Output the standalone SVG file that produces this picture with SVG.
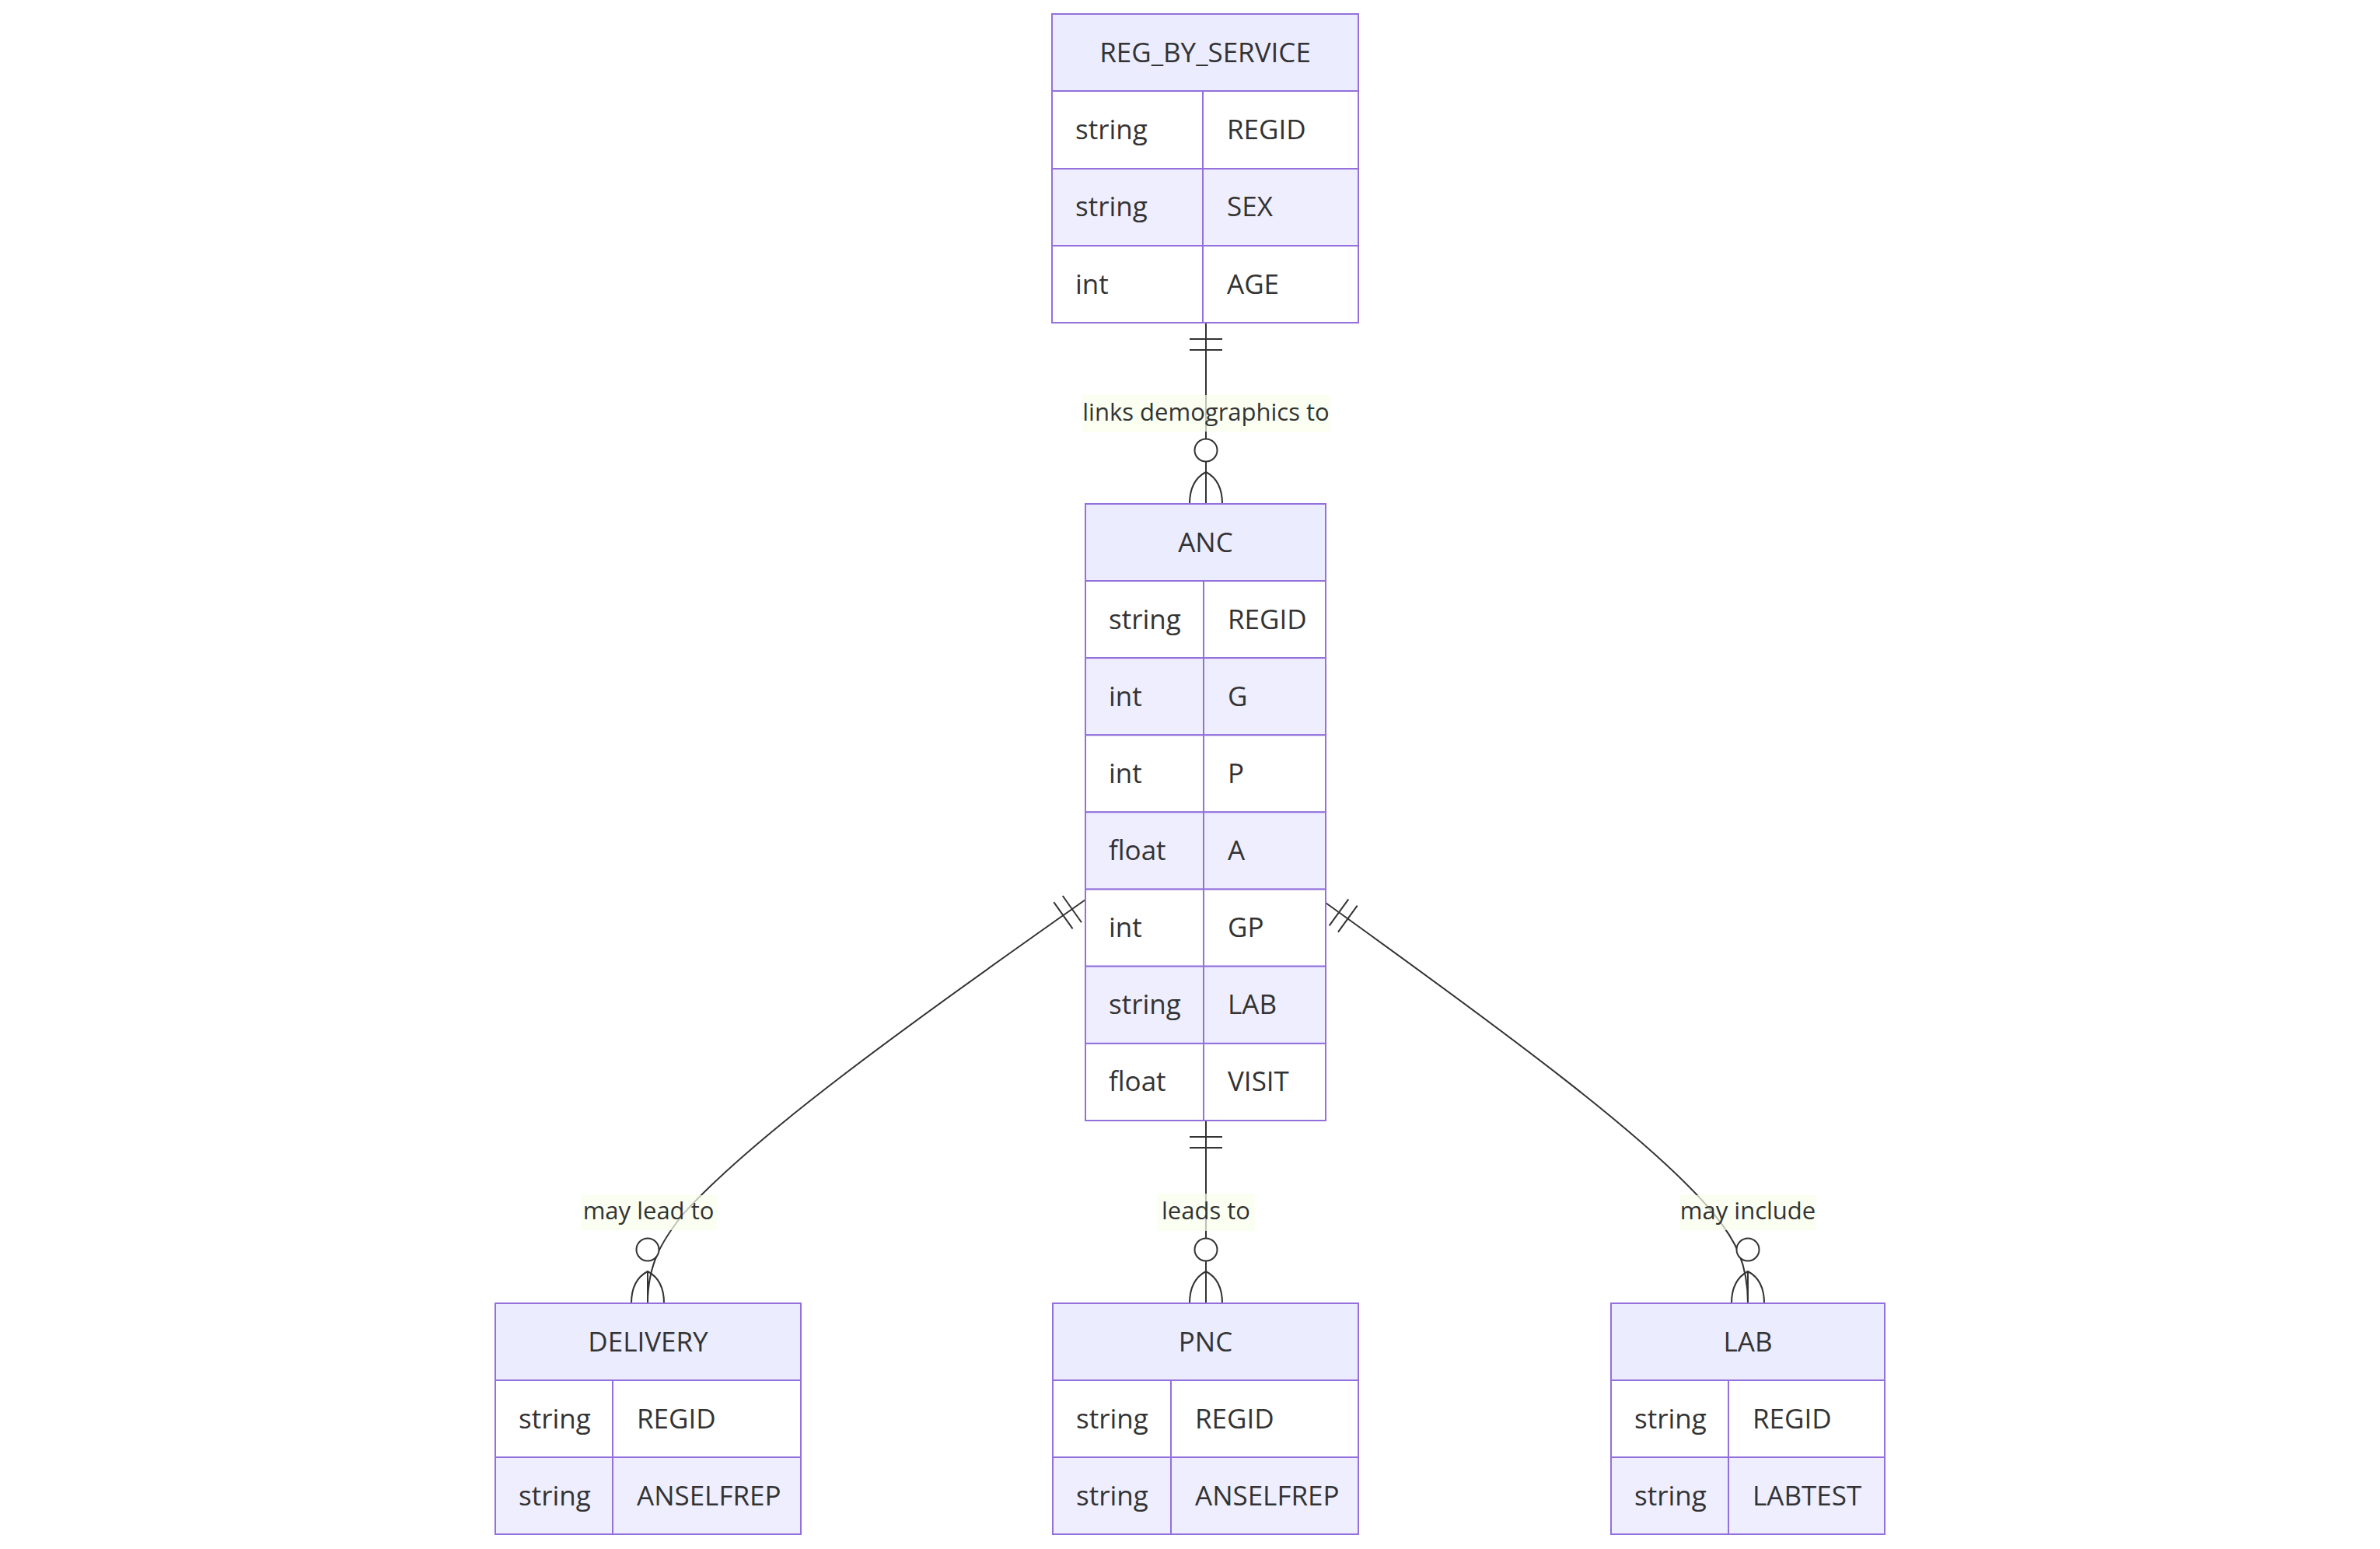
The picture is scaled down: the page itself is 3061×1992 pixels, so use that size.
<svg xmlns="http://www.w3.org/2000/svg" width="3061" height="1992" viewBox="0 0 3061 1992">
<style>
  .hdr { fill: #ECECFF; stroke: #9370DB; stroke-width: 2; }
  .odd { fill: #FFFFFF; stroke: #9370DB; stroke-width: 2; }
  .even { fill: #EEEEFF; stroke: #9370DB; stroke-width: 2; }
  .div { stroke: #9370DB; stroke-width: 2; }
  .title { font-family: "Open Sans", "Liberation Sans", sans-serif; font-size: 35px; fill: #333333; text-anchor: middle; }
  .attr { font-family: "Open Sans", "Liberation Sans", sans-serif; font-size: 35px; fill: #333333; }
  .edge { fill: none; stroke: #333333; stroke-width: 2; }
  .lblbox { fill: #F9FFEC; opacity: 0.7; }
  .lbl { font-family: "Open Sans", "Liberation Sans", sans-serif; font-size: 31px; fill: #333333; text-anchor: middle; }
  .mk { fill: none; stroke: #333333; stroke-width: 2; }
  .mkc { fill: #FFFFFF; stroke: #333333; stroke-width: 2; }
</style>
<defs>
  <g id="oneOnly">
    <line class="mk" x1="-21" y1="21" x2="21" y2="21"/>
    <line class="mk" x1="-21" y1="35" x2="21" y2="35"/>
  </g>
  <g id="zeroOrMany">
    <circle class="mkc" cx="0" cy="-69" r="14.5"/>
    <path class="mk" d="M-21,0 Q-21,-30 0,-41 Q21,-30 21,0"/>
    <line class="mk" x1="0" y1="-41" x2="0" y2="0"/>
  </g>
</defs>
<rect width="3061" height="1992" fill="#FFFFFF"/>

<g id="connectors">
  <path class="edge" d="M1551,415 L1551,648"/>
  <path class="edge" d="M1551,1441 L1551,1676"/>
  <path class="edge" d="M1396,1157 C1150,1330 965,1465 878,1562 C852,1595 833,1625 833,1676"/>
  <path class="edge" d="M1705,1161 C1940,1330 2130,1470 2205,1562 C2232,1595 2248,1625 2248,1676"/>

  <rect class="lblbox" x="1391" y="508" width="320" height="47"/>
  <text class="lbl" x="1551" y="541">links demographics to</text>
  <rect class="lblbox" x="1488" y="1535" width="126" height="48"/>
  <text class="lbl" x="1551" y="1568">leads to</text>
  <rect class="lblbox" x="747" y="1537" width="175" height="45"/>
  <text class="lbl" x="834" y="1568">may lead to</text>
  <rect class="lblbox" x="2160" y="1537" width="176" height="45"/>
  <text class="lbl" x="2248" y="1568">may include</text>

  <use href="#oneOnly" transform="translate(1551,415)"/>
  <use href="#zeroOrMany" transform="translate(1551,648)"/>
  <use href="#oneOnly" transform="translate(1551,1441)"/>
  <use href="#zeroOrMany" transform="translate(1551,1676)"/>
  <use href="#oneOnly" transform="translate(1396,1157) rotate(54.7)"/>
  <use href="#zeroOrMany" transform="translate(833,1676)"/>
  <use href="#oneOnly" transform="translate(1705,1161) rotate(-54)"/>
  <use href="#zeroOrMany" transform="translate(2248,1676)"/>
</g>

<g id="REG_BY_SERVICE">
  <rect class="hdr" x="1353" y="18" width="394" height="99"/>
  <rect class="odd" x="1353" y="117" width="394" height="100"/>
  <rect class="even" x="1353" y="217" width="394" height="99"/>
  <rect class="odd" x="1353" y="316" width="394" height="99"/>
  <line class="div" x1="1547" y1="117" x2="1547" y2="415"/>
  <text class="title" x="1550" y="80">REG_BY_SERVICE</text>
  <text class="attr" x="1383" y="179">string</text>
  <text class="attr" x="1578" y="179">REGID</text>
  <text class="attr" x="1383" y="278">string</text>
  <text class="attr" x="1578" y="278">SEX</text>
  <text class="attr" x="1383" y="378">int</text>
  <text class="attr" x="1578" y="378">AGE</text>
</g>

<g id="ANC">
  <rect class="hdr" x="1396" y="648" width="309" height="99"/>
  <rect class="odd" x="1396" y="747" width="309" height="99.1"/>
  <rect class="even" x="1396" y="846.1" width="309" height="99.2"/>
  <rect class="odd" x="1396" y="945.3" width="309" height="99.1"/>
  <rect class="even" x="1396" y="1044.4" width="309" height="99.2"/>
  <rect class="odd" x="1396" y="1143.6" width="309" height="99.1"/>
  <rect class="even" x="1396" y="1242.7" width="309" height="99.2"/>
  <rect class="odd" x="1396" y="1341.9" width="309" height="99.1"/>
  <line class="div" x1="1548" y1="747" x2="1548" y2="1441"/>
  <text class="title" x="1550.5" y="710">ANC</text>
  <text class="attr" x="1426" y="808.5">string</text>
  <text class="attr" x="1579" y="808.5">REGID</text>
  <text class="attr" x="1426" y="907.7">int</text>
  <text class="attr" x="1579" y="907.7">G</text>
  <text class="attr" x="1426" y="1006.9">int</text>
  <text class="attr" x="1579" y="1006.9">P</text>
  <text class="attr" x="1426" y="1106">float</text>
  <text class="attr" x="1579" y="1106">A</text>
  <text class="attr" x="1426" y="1205.1">int</text>
  <text class="attr" x="1579" y="1205.1">GP</text>
  <text class="attr" x="1426" y="1304.3">string</text>
  <text class="attr" x="1579" y="1304.3">LAB</text>
  <text class="attr" x="1426" y="1403.4">float</text>
  <text class="attr" x="1579" y="1403.4">VISIT</text>
</g>

<g id="DELIVERY">
  <rect class="hdr" x="637" y="1676" width="393" height="99"/>
  <rect class="odd" x="637" y="1775" width="393" height="99"/>
  <rect class="even" x="637" y="1874" width="393" height="99"/>
  <line class="div" x1="788" y1="1775" x2="788" y2="1973"/>
  <text class="title" x="833.5" y="1737.5">DELIVERY</text>
  <text class="attr" x="667" y="1836.5">string</text>
  <text class="attr" x="819" y="1836.5">REGID</text>
  <text class="attr" x="667" y="1935.5">string</text>
  <text class="attr" x="819" y="1935.5">ANSELFREP</text>
</g>

<g id="PNC">
  <rect class="hdr" x="1354" y="1676" width="393" height="99"/>
  <rect class="odd" x="1354" y="1775" width="393" height="99"/>
  <rect class="even" x="1354" y="1874" width="393" height="99"/>
  <line class="div" x1="1506" y1="1775" x2="1506" y2="1973"/>
  <text class="title" x="1550.5" y="1737.5">PNC</text>
  <text class="attr" x="1384" y="1836.5">string</text>
  <text class="attr" x="1537" y="1836.5">REGID</text>
  <text class="attr" x="1384" y="1935.5">string</text>
  <text class="attr" x="1537" y="1935.5">ANSELFREP</text>
</g>

<g id="LAB">
  <rect class="hdr" x="2072" y="1676" width="352" height="99"/>
  <rect class="odd" x="2072" y="1775" width="352" height="99"/>
  <rect class="even" x="2072" y="1874" width="352" height="99"/>
  <line class="div" x1="2223" y1="1775" x2="2223" y2="1973"/>
  <text class="title" x="2248" y="1737.5">LAB</text>
  <text class="attr" x="2102" y="1836.5">string</text>
  <text class="attr" x="2254" y="1836.5">REGID</text>
  <text class="attr" x="2102" y="1935.5">string</text>
  <text class="attr" x="2254" y="1935.5">LABTEST</text>
</g>
</svg>
